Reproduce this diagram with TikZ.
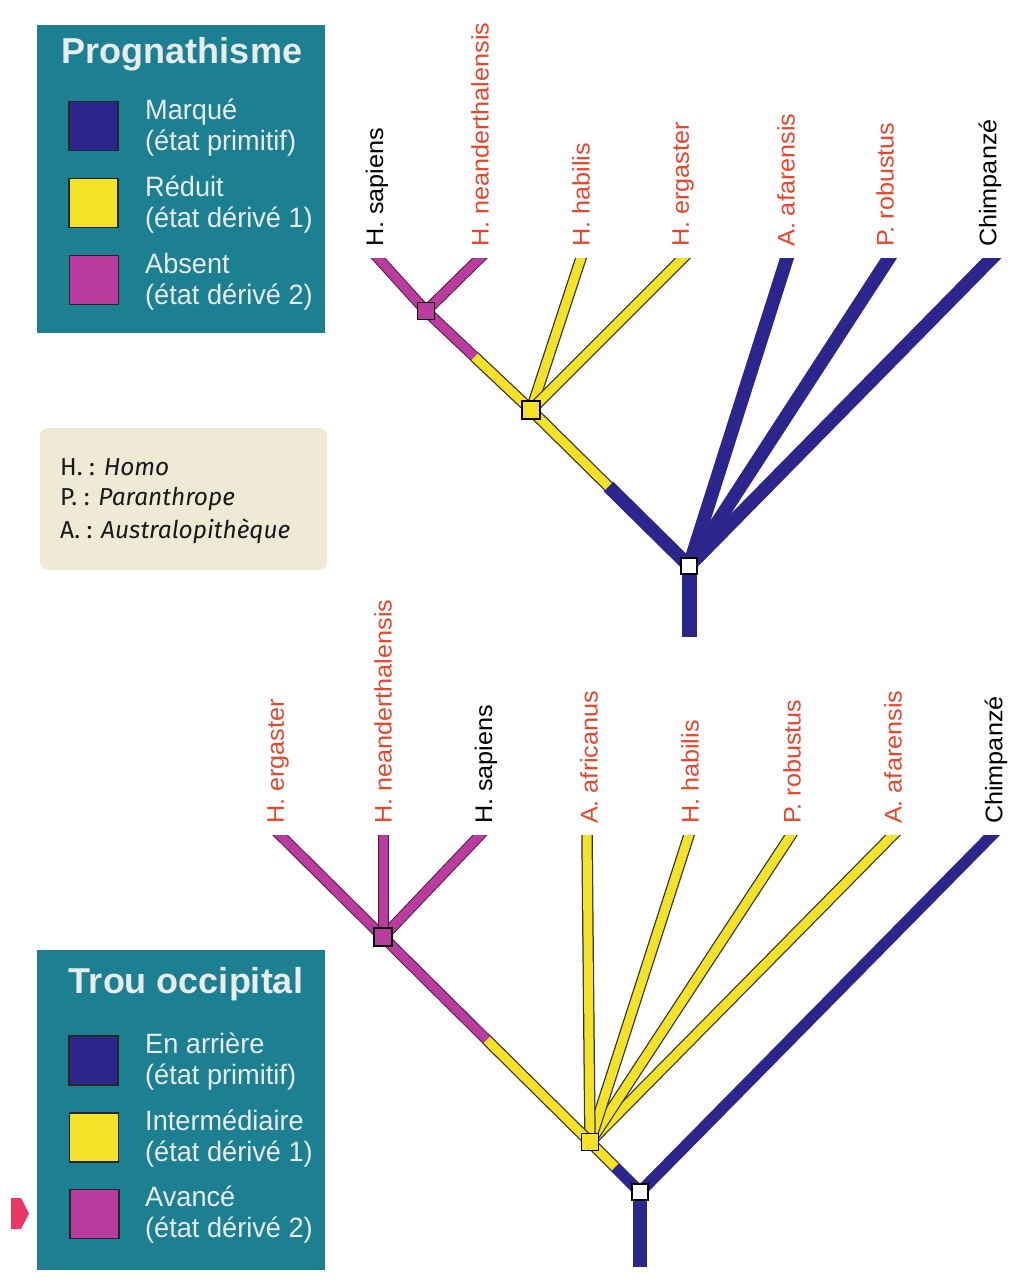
\documentclass[tikz,border=0pt]{standalone}
\usepackage{fontspec}
\usepackage{graphicx}
\setmainfont{Liberation Sans}
\newfontfamily\labfont[FakeStretch=1.05]{Liberation Sans}
\newfontfamily\legfont[FakeStretch=0.97]{Liberation Sans}
\newfontfamily\notefont{Fira Sans}
\usetikzlibrary{calc}
\definecolor{cblue}{RGB}{44,38,140}
\definecolor{cyel}{RGB}{244,226,40}
\definecolor{cmag}{RGB}{186,60,158}
\definecolor{cteal}{RGB}{28,128,146}
\definecolor{cred}{RGB}{232,70,44}
\definecolor{cbeige}{RGB}{238,234,214}
\definecolor{cpink}{RGB}{232,56,100}
\definecolor{clegtext}{RGB}{232,236,236}
\newcommand\ybr[2]{\draw[yout] (#1) -- (#2); \draw[yfill] (#1) -- (#2);}
\newcommand\mbr[2]{\draw[mout] (#1) -- (#2); \draw[mfill] (#1) -- (#2);}
\tikzset{
  blueb/.style={draw=cblue, line width=13.5pt},
  yout/.style={draw=black!80, line width=11.5pt},
  yfill/.style={draw=cyel, line width=9pt},
  mout/.style={draw=black!55!cmag, line width=11pt},
  mfill/.style={draw=cmag, line width=9pt},
  sq/.style={draw=black, line width=1.3pt, minimum size=16pt, inner sep=0pt, shape=rectangle},
  lab/.style={rotate=90, anchor=west, inner sep=0pt, font=\labfont\fontsize{24}{24}\selectfont},
  ext/.style={text=cred},
  liv/.style={text=black},
  swatch/.style={draw=black!85, line width=1.5pt, minimum size=49pt, inner sep=0pt},
  legbox/.style={fill=cteal},
  legtitle/.style={text=clegtext, inner sep=0pt, font=\bfseries\fontsize{36}{36}\selectfont},
  legtext/.style={text=clegtext, anchor=west, align=left, inner sep=0pt, font=\legfont\fontsize{28}{31}\selectfont},
  notetext/.style={anchor=west, inner sep=0pt, text=black!90, font=\notefont\fontsize{24.5}{24.5}\selectfont},
}
\begin{document}
\begin{tikzpicture}[x=1pt,y=-1pt]
\useasboundingbox (0,0) rectangle (1014,1282);
\fill[white] (0,0) rectangle (1014,1282);

% ---------------- top legend ----------------
\fill[legbox] (37,25) rectangle (325,333);
\node[legtitle] (t1title) at (182,54) {Prognathisme};
\node[swatch, fill=cblue] (t1s1) at (93.5,126) {};
\node[swatch, fill=cyel] (t1s2) at (93.5,203) {};
\node[swatch, fill=cmag] (t1s3) at (94,280) {};
\node[legtext] (t1l1) at (145,128) {Marqué\\(état primitif)};
\node[legtext] (t1l2) at (145,205) {Réduit\\(état dérivé 1)};
\node[legtext] (t1l3) at (145,282) {Absent\\(état dérivé 2)};

% ---------------- note box ----------------
\fill[cbeige, rounded corners=8pt] (40,428) rectangle (327,570);
\node[notetext] (n1) at (60,467) {H. : \textit{Homo}};
\node[notetext] (n2) at (60,499) {P. : \textit{Paranthrope}};
\node[notetext] (n3) at (60,531) {A. : \textit{Australopithèque}};

% ---------------- top tree ----------------
\node[sq, fill=white] (tR) at (689,566) {};
\node[sq, fill=cyel, minimum size=18pt] (tY) at (531,410) {};
\node[sq, fill=cmag, minimum size=17pt] (tP) at (426,311) {};
\coordinate (tBase) at (689,637);
\coordinate (tSap) at (378,258);
\coordinate (tNea) at (480,258);
\coordinate (tHab) at (581,258);
\coordinate (tErg) at (683,258);
\coordinate (tAfa) at (787,258);
\coordinate (tRob) at (889,258);
\coordinate (tChi) at (992,258);
\coordinate (tC1) at ($(tR.center)!0.51!(tY.center)$);
\coordinate (tC2) at ($(tY.center)!0.54!(tP.center)$);
\coordinate (tSapX) at ($(tP.center)!1.2!(tSap)$);
\coordinate (tNeaX) at ($(tP.center)!1.2!(tNea)$);
\coordinate (tHabX) at ($(tY.center)!1.1!(tHab)$);
\coordinate (tErgX) at ($(tY.center)!1.1!(tErg)$);
\coordinate (tAfaX) at ($(tR.center)!1.06!(tAfa)$);
\coordinate (tRobX) at ($(tR.center)!1.06!(tRob)$);
\coordinate (tChiX) at ($(tR.center)!1.06!(tChi)$);
\begin{scope}
\clip (0,258) rectangle (1014,700);
\draw[blueb, line width=15pt] (tR.center) -- (tBase);
\draw[blueb] (tR.center) -- (tAfaX);
\draw[blueb] (tR.center) -- (tRobX);
\draw[blueb] (tR.center) -- (tChiX);
\draw[blueb] (tR.center) -- (tC1);
\ybr{tC1}{tY.center}
\ybr{tY.center}{tHabX}
\ybr{tY.center}{tErgX}
\ybr{tY.center}{tC2}
\mbr{tC2}{tP.center}
\mbr{tP.center}{tNeaX}
\mbr{tP.center}{tSapX}
\end{scope}
\node[sq, fill=white] at (tR) {};
\node[sq, fill=cyel, minimum size=18pt] at (tY) {};
\node[sq, fill=cmag, minimum size=17pt] at (tP) {};

\node[lab, liv] (tLSap) at (377,247) {H. sapiens};
\node[lab, ext] (tLNea) at (480,247) {H. neanderthalensis};
\node[lab, ext] (tLHab) at (581,247) {H. habilis};
\node[lab, ext] (tLErg) at (683,247) {H. ergaster};
\node[lab, ext] (tLAfa) at (786,247) {A. afarensis};
\node[lab, ext] (tLRob) at (885,247) {P. robustus};
\node[lab, liv] (tLChi) at (990,247) {Chimpanzé};

% ---------------- bottom tree ----------------
\node[sq, fill=white] (bR) at (640,1192) {};
\node[sq, fill=cyel, minimum size=17pt] (bY) at (590,1142) {};
\node[sq, fill=cmag, minimum size=18pt] (bP) at (383,937) {};
\coordinate (bBase) at (640,1267);
\coordinate (bErg) at (280,835);
\coordinate (bNea) at (383,835);
\coordinate (bSap) at (480,835);
\coordinate (bAfr) at (587,835);
\coordinate (bHab) at (689,835);
\coordinate (bRob) at (791,835);
\coordinate (bAfa) at (893,835);
\coordinate (bChi) at (992,835);
\coordinate (bC1) at ($(bR.center)!0.5!(bY.center)$);
\coordinate (bC2) at ($(bY.center)!0.5!(bP.center)$);
\coordinate (bErgX) at ($(bP.center)!1.2!(bErg)$);
\coordinate (bNeaX) at ($(bP.center)!1.2!(bNea)$);
\coordinate (bSapX) at ($(bP.center)!1.2!(bSap)$);
\coordinate (bAfrX) at ($(bY.center)!1.05!(bAfr)$);
\coordinate (bHabX) at ($(bY.center)!1.05!(bHab)$);
\coordinate (bRobX) at ($(bY.center)!1.05!(bRob)$);
\coordinate (bAfaX) at ($(bY.center)!1.05!(bAfa)$);
\coordinate (bChiX) at ($(bR.center)!1.05!(bChi)$);
\begin{scope}
\clip (0,835) rectangle (1014,1282);
\draw[blueb, line width=14pt] (bR.center) -- (bBase);
\draw[blueb, line width=11.5pt] (bR.center) -- (bChiX);
\draw[blueb, line width=11.5pt] (bR.center) -- (bC1);
\ybr{bC1}{bY.center}
\ybr{bY.center}{bAfaX}
\ybr{bY.center}{bRobX}
\ybr{bY.center}{bHabX}
\ybr{bY.center}{bAfrX}
\ybr{bY.center}{bC2}
\mbr{bC2}{bP.center}
\mbr{bP.center}{bErgX}
\mbr{bP.center}{bSapX}
\mbr{bP.center}{bNeaX}
\end{scope}
\node[sq, fill=white] at (bR) {};
\node[sq, fill=cyel, minimum size=17pt] at (bY) {};
\node[sq, fill=cmag, minimum size=18pt] at (bP) {};

\node[lab, ext] (bLErg) at (278,824) {H. ergaster};
\node[lab, ext] (bLNea) at (383,824) {H. neanderthalensis};
\node[lab, liv] (bLSap) at (486,824) {H. sapiens};
\node[lab, ext] (bLAfr) at (589,824) {A. africanus};
\node[lab, ext] (bLHab) at (690,824) {H. habilis};
\node[lab, ext] (bLRob) at (792,824) {P. robustus};
\node[lab, ext] (bLAfa) at (893,824) {A. afarensis};
\node[lab, liv] (bLChi) at (996,824) {Chimpanzé};

% ---------------- bottom legend ----------------
\fill[legbox] (37,950) rectangle (325,1270);
\node[legtitle] (t2title) at (186,984) {Trou occipital};
\node[swatch, fill=cblue] (t2s1) at (93.5,1060.5) {};
\node[swatch, fill=cyel] (t2s2) at (94,1137.5) {};
\node[swatch, fill=cmag] (t2s3) at (94.5,1214) {};
\node[legtext] (t2l1) at (145,1062) {En arrière\\(état primitif)};
\node[legtext] (t2l2) at (145,1139) {Intermédiaire\\(état dérivé 1)};
\node[legtext] (t2l3) at (145,1215) {Avancé\\(état dérivé 2)};

% page marker
\fill[cpink] (11,1198) -- (21,1198) -- (29,1213.5) -- (21,1229) -- (11,1229) -- cycle;
\end{tikzpicture}
\end{document}
